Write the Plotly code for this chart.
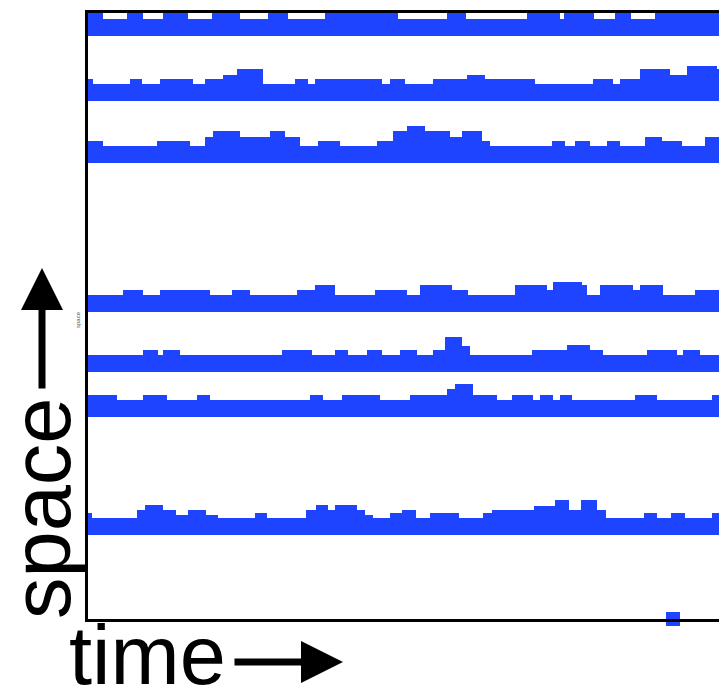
import plotly.graph_objects as go

# time axis (arbitrary units), space axis (arbitrary units)
T_END = 631
S_TOP = 606

# each band: step start times and bump heights above its flat level
band1_t = [0, 15, 39, 55, 75, 100, 124, 152, 180, 200, 237, 310, 359, 378, 439, 472, 476, 506, 527, 543, 567]
band1_h = [10, 0, 10, 0, 10, 0, 10, 0, 10, 0, 10, 0, 10, 0, 10, 0, 10, 0, 10, 0, 10]

band2_t = [0, 5, 42, 54, 72, 105, 117, 135, 149, 175, 207, 220, 227, 294, 302, 317, 345, 379, 397, 447, 505, 525, 532, 552, 582, 599, 629]
band2_h = [5, 0, 5, 0, 5, 0, 5, 9, 15, 0, 5, 0, 5, 0, 5, 0, 5, 9, 5, 0, 5, 0, 5, 15, 9, 18, 15]

band3_t = [0, 15, 69, 102, 117, 125, 152, 182, 197, 212, 230, 252, 289, 305, 319, 337, 362, 374, 394, 402, 464, 477, 487, 502, 519, 532, 557, 574, 594, 617]
band3_h = [5, 0, 5, 0, 9, 15, 9, 15, 9, 0, 5, 0, 5, 15, 20, 15, 9, 15, 5, 0, 5, 0, 5, 0, 5, 0, 9, 5, 0, 9]

band4_t = [0, 35, 55, 72, 122, 144, 162, 209, 227, 247, 287, 319, 332, 364, 380, 427, 459, 465, 494, 499, 512, 545, 552, 575, 607]
band4_h = [0, 5, 0, 5, 0, 5, 0, 5, 10, 0, 5, 0, 10, 5, 0, 10, 5, 13, 10, 0, 10, 5, 10, 0, 5]

band5_t = [0, 55, 70, 75, 92, 194, 224, 247, 260, 279, 294, 312, 329, 345, 357, 374, 382, 444, 479, 502, 515, 559, 589, 595, 612]
band5_h = [0, 5, 0, 5, 0, 5, 0, 5, 0, 5, 0, 5, 0, 5, 18, 9, 0, 5, 10, 5, 0, 5, 0, 5, 0]

band6_t = [0, 29, 55, 79, 109, 122, 222, 235, 254, 292, 322, 359, 367, 385, 409, 424, 445, 452, 465, 472, 484, 547, 569, 624]
band6_h = [5, 0, 5, 0, 5, 0, 5, 0, 5, 0, 5, 11, 16, 5, 0, 5, 0, 5, 0, 5, 0, 5, 0, 5]

band7_t = [0, 4, 49, 57, 75, 88, 100, 118, 130, 167, 179, 218, 228, 240, 247, 269, 277, 285, 302, 314, 328, 342, 371, 395, 404, 446, 467, 481, 493, 509, 518, 556, 569, 583, 597, 624]
band7_h = [5, 0, 8, 13, 8, 3, 8, 3, 0, 5, 0, 8, 13, 8, 13, 8, 3, 0, 5, 8, 0, 5, 0, 5, 8, 12, 18, 8, 18, 8, 0, 5, 0, 5, 0, 5]

band_base = [583, 518, 456, 307, 247, 202, 84]
band_thick = 17

bands = [(band1_t, band1_h), (band2_t, band2_h), (band3_t, band3_h), (band4_t, band4_h),
         (band5_t, band5_h), (band6_t, band6_h), (band7_t, band7_h)]

event_t = [585]
event_s = [0]

BLUE = "#1f44ff"
FONT = "Liberation Sans, Arial, sans-serif"

fig = go.Figure()
for (ts, hs), base in zip(bands, band_base):
    xs, ys = [], []
    for i, (t0, h) in enumerate(zip(ts, hs)):
        t1 = ts[i + 1] if i + 1 < len(ts) else T_END
        top = base + band_thick + h
        xs += [t0, t1]
        ys += [top, top]
    xs += [T_END, 0, 0]
    ys += [base, base, ys[0]]
    fig.add_trace(go.Scatter(x=xs, y=ys, mode="lines", fill="toself",
                             fillcolor=BLUE, line=dict(width=0, color=BLUE),
                             hoverinfo="skip", showlegend=False))

fig.add_trace(go.Scatter(x=event_t, y=event_s, mode="markers",
                         marker=dict(symbol="square", size=14, color=BLUE, line=dict(width=0)),
                         cliponaxis=False, hoverinfo="skip", showlegend=False))

fig.update_layout(
    width=719, height=688,
    margin=dict(l=88, r=0, t=13, b=69),
    paper_bgcolor="white", plot_bgcolor="white",
    font=dict(family=FONT, color="black"),
    xaxis=dict(range=[0, T_END], showgrid=False, zeroline=False, showticklabels=False,
               ticks="", showline=True, linecolor="black", linewidth=3, mirror=True),
    yaxis=dict(range=[0, S_TOP], showgrid=False, zeroline=False, showticklabels=False,
               ticks="", showline=True, linecolor="black", linewidth=3),
)

def px_x(p):
    return (p - 88) / 631.0

def px_y(p):
    return (619 - p) / 606.0

fig.add_annotation(text="time", x=px_x(67), y=px_y(655), xref="paper", yref="paper",
                   xanchor="left", yanchor="middle", showarrow=False,
                   font=dict(size=83, family=FONT, color="black"))
fig.add_annotation(text="space", x=px_x(41), y=px_y(509), xref="paper", yref="paper",
                   xanchor="center", yanchor="middle", textangle=-90, showarrow=False,
                   font=dict(size=83, family=FONT, color="black"))
fig.add_annotation(text="space", x=px_x(78), y=px_y(320), xref="paper", yref="paper",
                   xanchor="center", yanchor="middle", textangle=-90, showarrow=False,
                   font=dict(size=6, color="#555"))
# arrows
fig.add_annotation(text="", x=px_x(343), y=px_y(662), xref="paper", yref="paper",
                   ax=-110, ay=0, showarrow=True, arrowhead=2, arrowwidth=7, arrowsize=1.2,
                   arrowcolor="black")
fig.add_annotation(text="", x=px_x(42), y=px_y(268), xref="paper", yref="paper",
                   ax=0, ay=122, showarrow=True, arrowhead=2, arrowwidth=7, arrowsize=1.2,
                   arrowcolor="black")

fig.write_html("out.html")
